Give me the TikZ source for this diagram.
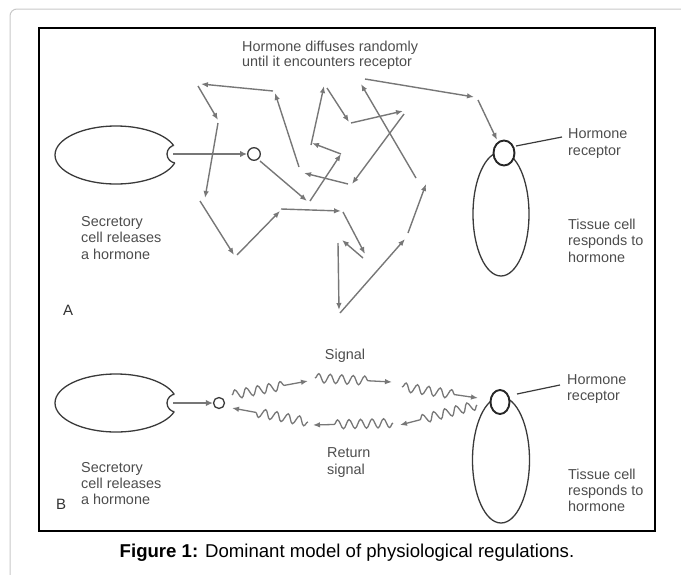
\documentclass[tikz,border=0pt]{standalone}
\usepackage{fontspec}
\setmainfont{Liberation Sans}
\usetikzlibrary{arrows.meta,decorations.pathmorphing,shapes.geometric}
\definecolor{arr}{HTML}{777777}
\definecolor{cellc}{HTML}{3A3A3A}
\definecolor{txt}{HTML}{4D4D4D}
\definecolor{frame}{HTML}{C8C8C8}
\begin{document}
\begin{tikzpicture}[x=1pt,y=-1pt,
  walk/.style={draw=arr, line width=1.4pt, -{Latex[length=7pt,width=5.5pt]}},
  wave/.style={draw=arr, line width=1.3pt, -{Latex[length=7pt,width=5.5pt]},
     decorate, decoration={snake, amplitude=4.5pt, segment length=11.5pt, post length=19pt}},
  release/.style={draw=arr, line width=2.4pt, -{Latex[length=7pt,width=6.5pt]}},
  cellline/.style={draw=cellc, line width=1.3pt},
  recep/.style={draw=black!85, line width=1.9pt, fill=white},
  lbl/.style={font=\fontsize{14.4}{16}\selectfont, text=txt, inner sep=0pt, anchor=base west},
  panel/.style={font=\fontsize{15}{17}\selectfont, text=black!80, inner sep=0pt, anchor=base west},
  pointer/.style={draw=cellc, line width=1.2pt}]
\useasboundingbox (0,0) rectangle (681,574);
% outer page frame
\draw[frame, line width=1pt, rounded corners=7pt] (10,575) -- (10,9) -- (682,9);
% figure box
\draw[black, line width=2.5pt] (39,28) rectangle (655,531);

% ---------- Panel A ----------
\draw[cellline] (116,155) ellipse [x radius=61pt, y radius=29pt];
\fill[white] (176,154) circle [radius=9pt];
\begin{scope}
  \clip (116,155) ellipse [x radius=61pt, y radius=29pt];
  \draw[cellline] (176,154) circle [radius=9pt];
\end{scope}
\node[circle, draw=cellc, line width=1.3pt, minimum size=12.6pt, inner sep=0pt] (hA) at (254,154) {};
\coordinate (relA) at (173,154);
\draw[release] (relA) -- (hA.west);

\foreach \n/\a/\b/\c/\d in {
  a/260/161/307/201, b/310/201/341/154, c/341/154/312/143, d/311/145/324/86,
  e/327/88/349/122, f/351/123/403/111, g/404/114/352/184, h/348/184/304/173,
  i/299/167/275/93, j/273/91/201/84, k/198/86/218/120, l/218/123/205/198,
  m/200/201/234/255, n/237/255/280/211, o/281/209/341/211, p/343/212/365/254,
  q/363/258/342/240, r/338/243/339/310, s/340/313/405/239, t/408/233/426/184,
  u/416/178/361/84, v/365/79/474/97, w/478/100/497/140}
{
  \coordinate (\n1) at (\a,\b);
  \coordinate (\n2) at (\c,\d);
  \draw[walk] (\n1) -- (\n2);
}

\draw[cellline] (501,214) ellipse [x radius=28pt, y radius=62pt];
\node[ellipse, recep, minimum width=21pt, minimum height=25pt, inner sep=0pt] (rA) at (504,153) {};
\coordinate (rAl) at (562,137);
\draw[pointer] (516,146) -- (rAl);

\node[lbl] (tA1) at (242,51.5) {Hormone diffuses randomly};
\node[lbl] (tA2) at (242,66.5) {until it encounters receptor};
\node[lbl] (sA1) at (81,226.5) {Secretory};
\node[lbl] (sA2) at (81,242.5) {cell releases};
\node[lbl] (sA3) at (81,259.5) {a hormone};
\node[lbl] (hrA1) at (568,138.5) {Hormone};
\node[lbl] (hrA2) at (568,155.5) {receptor};
\node[lbl] (tcA1) at (568,229.5) {Tissue cell};
\node[lbl] (tcA2) at (568,245.5) {responds to};
\node[lbl] (tcA3) at (568,262.5) {hormone};
\node[panel] (pA) at (63,315) {A};

% ---------- Panel B ----------
\draw[cellline] (116,403) ellipse [x radius=61pt, y radius=29pt];
\fill[white] (176,403) circle [radius=9pt];
\begin{scope}
  \clip (116,403) ellipse [x radius=61pt, y radius=29pt];
  \draw[cellline] (176,403) circle [radius=9pt];
\end{scope}
\node[circle, draw=cellc, line width=1.3pt, minimum size=11pt, inner sep=0pt] (hB) at (219,403) {};
\coordinate (relB) at (173,403);
\draw[release] (relB) -- (hB.west);

\foreach \n/\a/\b/\c/\d in {
  sa/232/395/308/381, sb/315/378/392/382, sc/402/387/478/398,
  ra/477/405/400/425, rb/393/423/313/425, rc/308/422/232/408}
{
  \coordinate (\n1) at (\a,\b);
  \coordinate (\n2) at (\c,\d);
  \draw[wave] (\n1) -- (\n2);
}

\draw[cellline] (501,460) ellipse [x radius=28.5pt, y radius=63pt];
\node[ellipse, recep, minimum width=19pt, minimum height=24pt, inner sep=0pt] (rB) at (500,402) {};
\coordinate (rBl) at (560,385);
\draw[pointer] (517,394) -- (rBl);

\node[lbl, anchor=base] (sig) at (345,359.5) {Signal};
\node[lbl] (ret1) at (327,457.5) {Return};
\node[lbl] (ret2) at (327,474.5) {signal};
\node[lbl] (sB1) at (81,472.5) {Secretory};
\node[lbl] (sB2) at (81,488.5) {cell releases};
\node[lbl] (sB3) at (81,504.5) {a hormone};
\node[lbl] (hrB1) at (567,384.5) {Hormone};
\node[lbl] (hrB2) at (567,400.5) {receptor};
\node[lbl] (tcB1) at (568,479.5) {Tissue cell};
\node[lbl] (tcB2) at (568,495.5) {responds to};
\node[lbl] (tcB3) at (568,511.5) {hormone};
\node[panel] (pB) at (56,509) {B};

% caption
\node[font=\fontsize{18.6}{21}\selectfont, inner sep=0pt, anchor=base] (cap) at (347,557)
  {\textbf{Figure 1:} Dominant model of physiological regulations.};
\end{tikzpicture}
\end{document}
